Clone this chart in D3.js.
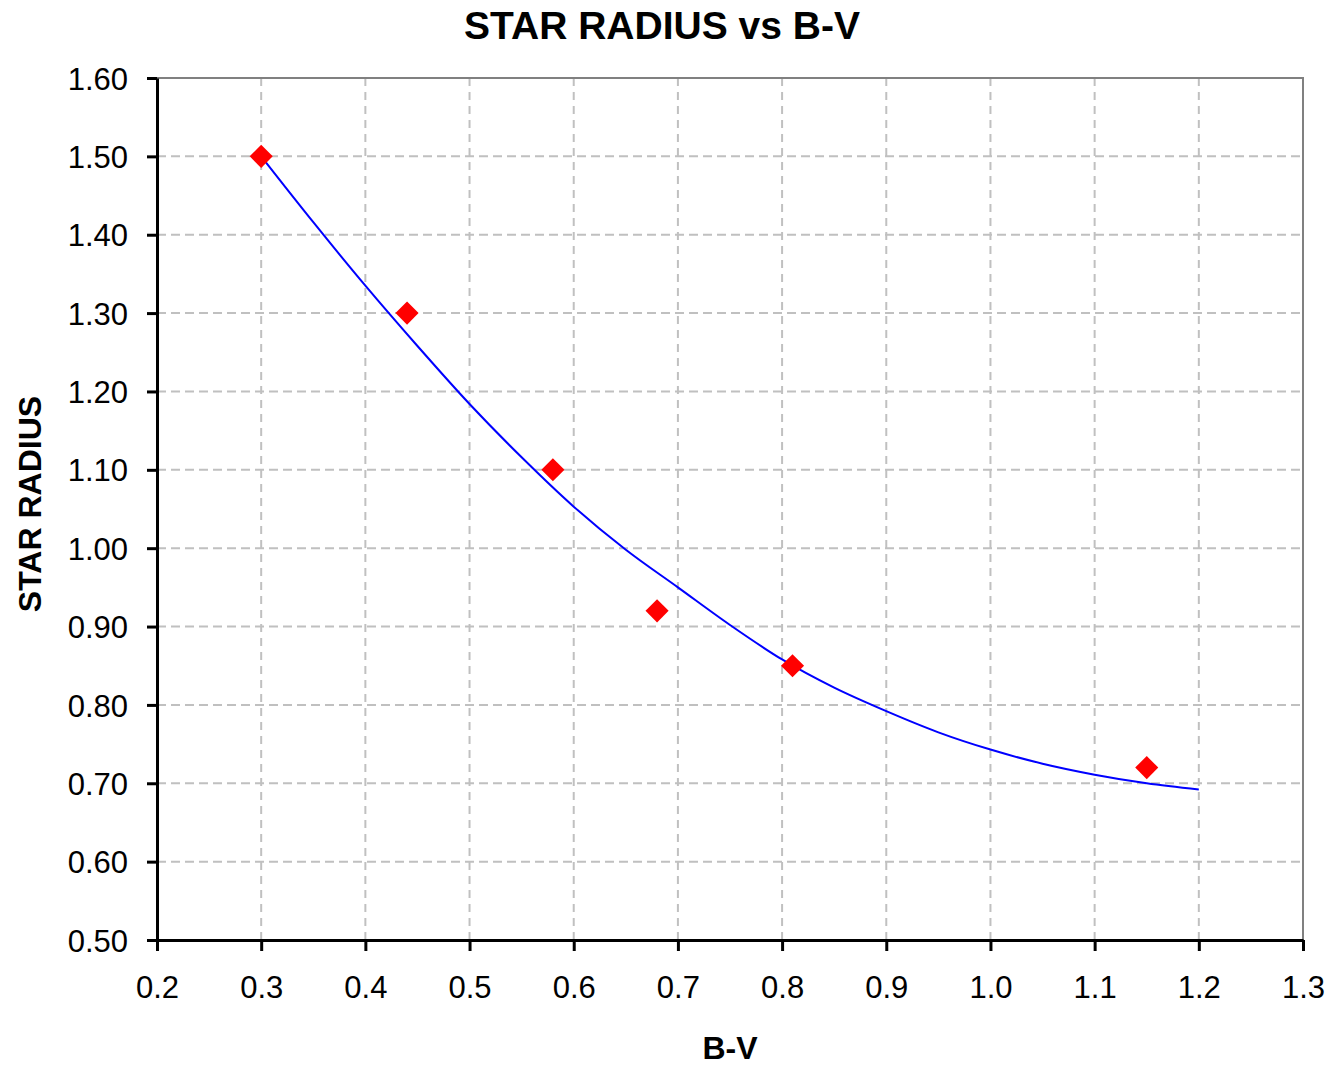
<!DOCTYPE html>
<html>
<head>
<meta charset="utf-8">
<script src="https://cdn.jsdelivr.net/npm/d3@7"></script>
<style>
  body { margin: 0; background: #fff; }
  text { font-family: "Liberation Sans", Arial, sans-serif; }
</style>
</head>
<body>
<script>

// observed stars
var bv     = [0.30, 0.44, 0.58, 0.68, 0.81, 1.15];
var radius = [1.50, 1.30, 1.10, 0.92, 0.85, 0.72];

// trend line
var trendBV     = [0.30, 0.35, 0.40, 0.45, 0.50, 0.55, 0.60, 0.65, 0.70, 0.75, 0.80, 0.85, 0.90, 0.95, 1.00, 1.05, 1.10, 1.15, 1.20];
var trendRadius = [1.500, 1.416, 1.335, 1.258, 1.184, 1.116, 1.053, 0.998, 0.950, 0.902, 0.858, 0.822, 0.792, 0.765, 0.743, 0.725, 0.711, 0.700, 0.692];

var xTicks = [0.2, 0.3, 0.4, 0.5, 0.6, 0.7, 0.8, 0.9, 1.0, 1.1, 1.2, 1.3];
var yTicks = [0.5, 0.6, 0.7, 0.8, 0.9, 1.0, 1.1, 1.2, 1.3, 1.4, 1.5, 1.6];

var W = 1332, H = 1067;
var margin = {top: 78, right: 29, bottom: 127, left: 157},
    width = W - margin.left - margin.right,
    height = H - margin.top - margin.bottom;

var svg = d3.select("body").append("svg")
    .attr("width", W)
    .attr("height", H);

var g = svg.append("g")
    .attr("transform", "translate(" + margin.left + "," + margin.top + ")");

var x = d3.scaleLinear().domain([0.2, 1.3]).range([0, width]);
var y = d3.scaleLinear().domain([0.5, 1.6]).range([height, 0]);

// grid
g.selectAll(".hgrid")
    .data(yTicks.slice(1, -1))
  .enter().append("line")
    .attr("x1", 0).attr("x2", width)
    .attr("y1", function(d) { return y(d); })
    .attr("y2", function(d) { return y(d); })
    .attr("stroke", "#c0c0c0")
    .attr("stroke-width", 2)
    .attr("stroke-dasharray", "9,5");

g.selectAll(".vgrid")
    .data(xTicks.slice(1, -1))
  .enter().append("line")
    .attr("y1", 0).attr("y2", height)
    .attr("x1", function(d) { return x(d); })
    .attr("x2", function(d) { return x(d); })
    .attr("stroke", "#c0c0c0")
    .attr("stroke-width", 2)
    .attr("stroke-dasharray", "8,6");

// top / right frame
g.append("path")
    .attr("d", "M0,0H" + width + "V" + height)
    .attr("fill", "none")
    .attr("stroke", "#808080")
    .attr("stroke-width", 2);

// axes
var xAxis = g.append("g")
    .attr("transform", "translate(0," + height + ")")
    .call(d3.axisBottom(x).tickValues(xTicks).tickFormat(d3.format(".1f")).tickSize(11).tickSizeOuter(0).tickPadding(25));

var yAxis = g.append("g")
    .call(d3.axisLeft(y).tickValues(yTicks).tickFormat(d3.format(".2f")).tickSize(10).tickSizeOuter(0).tickPadding(19));

[xAxis, yAxis].forEach(function(a) {
  a.select(".domain").attr("stroke", "#000").attr("stroke-width", 3);
  a.selectAll(".tick line").attr("stroke", "#000").attr("stroke-width", 3);
  a.selectAll(".tick text")
      .attr("fill", "#000")
      .style("font-size", "31px")
      .style("font-family", "'Liberation Sans', Arial, sans-serif");
});
xAxis.selectAll(".tick text").attr("dy", "0.71em");
yAxis.selectAll(".tick text").attr("dy", "0.36em");

// trend line
var line = d3.line()
    .x(function(d) { return x(d[0]); })
    .y(function(d) { return y(d[1]); })
    .curve(d3.curveMonotoneX);

g.append("path")
    .datum(d3.zip(trendBV, trendRadius))
    .attr("d", line)
    .attr("fill", "none")
    .attr("stroke", "#0000ff")
    .attr("stroke-width", 2);

// diamonds
var diamond = d3.symbol().type(d3.symbolDiamond2).size(340);

g.selectAll(".pt")
    .data(d3.zip(bv, radius))
  .enter().append("path")
    .attr("d", diamond)
    .attr("transform", function(d) { return "translate(" + x(d[0]) + "," + y(d[1]) + ")"; })
    .attr("fill", "#ff0000");

// titles
svg.append("text")
    .attr("x", 662)
    .attr("y", 39)
    .attr("text-anchor", "middle")
    .style("font-size", "39px")
    .style("font-weight", "bold")
    .text("STAR RADIUS vs B-V");

svg.append("text")
    .attr("x", margin.left + width / 2)
    .attr("y", 1059)
    .attr("text-anchor", "middle")
    .style("font-size", "32px")
    .style("font-weight", "bold")
    .text("B-V");

svg.append("text")
    .attr("transform", "translate(41,504) rotate(-90)")
    .attr("text-anchor", "middle")
    .style("font-size", "32px")
    .style("font-weight", "bold")
    .text("STAR RADIUS");

</script>
</body>
</html>
